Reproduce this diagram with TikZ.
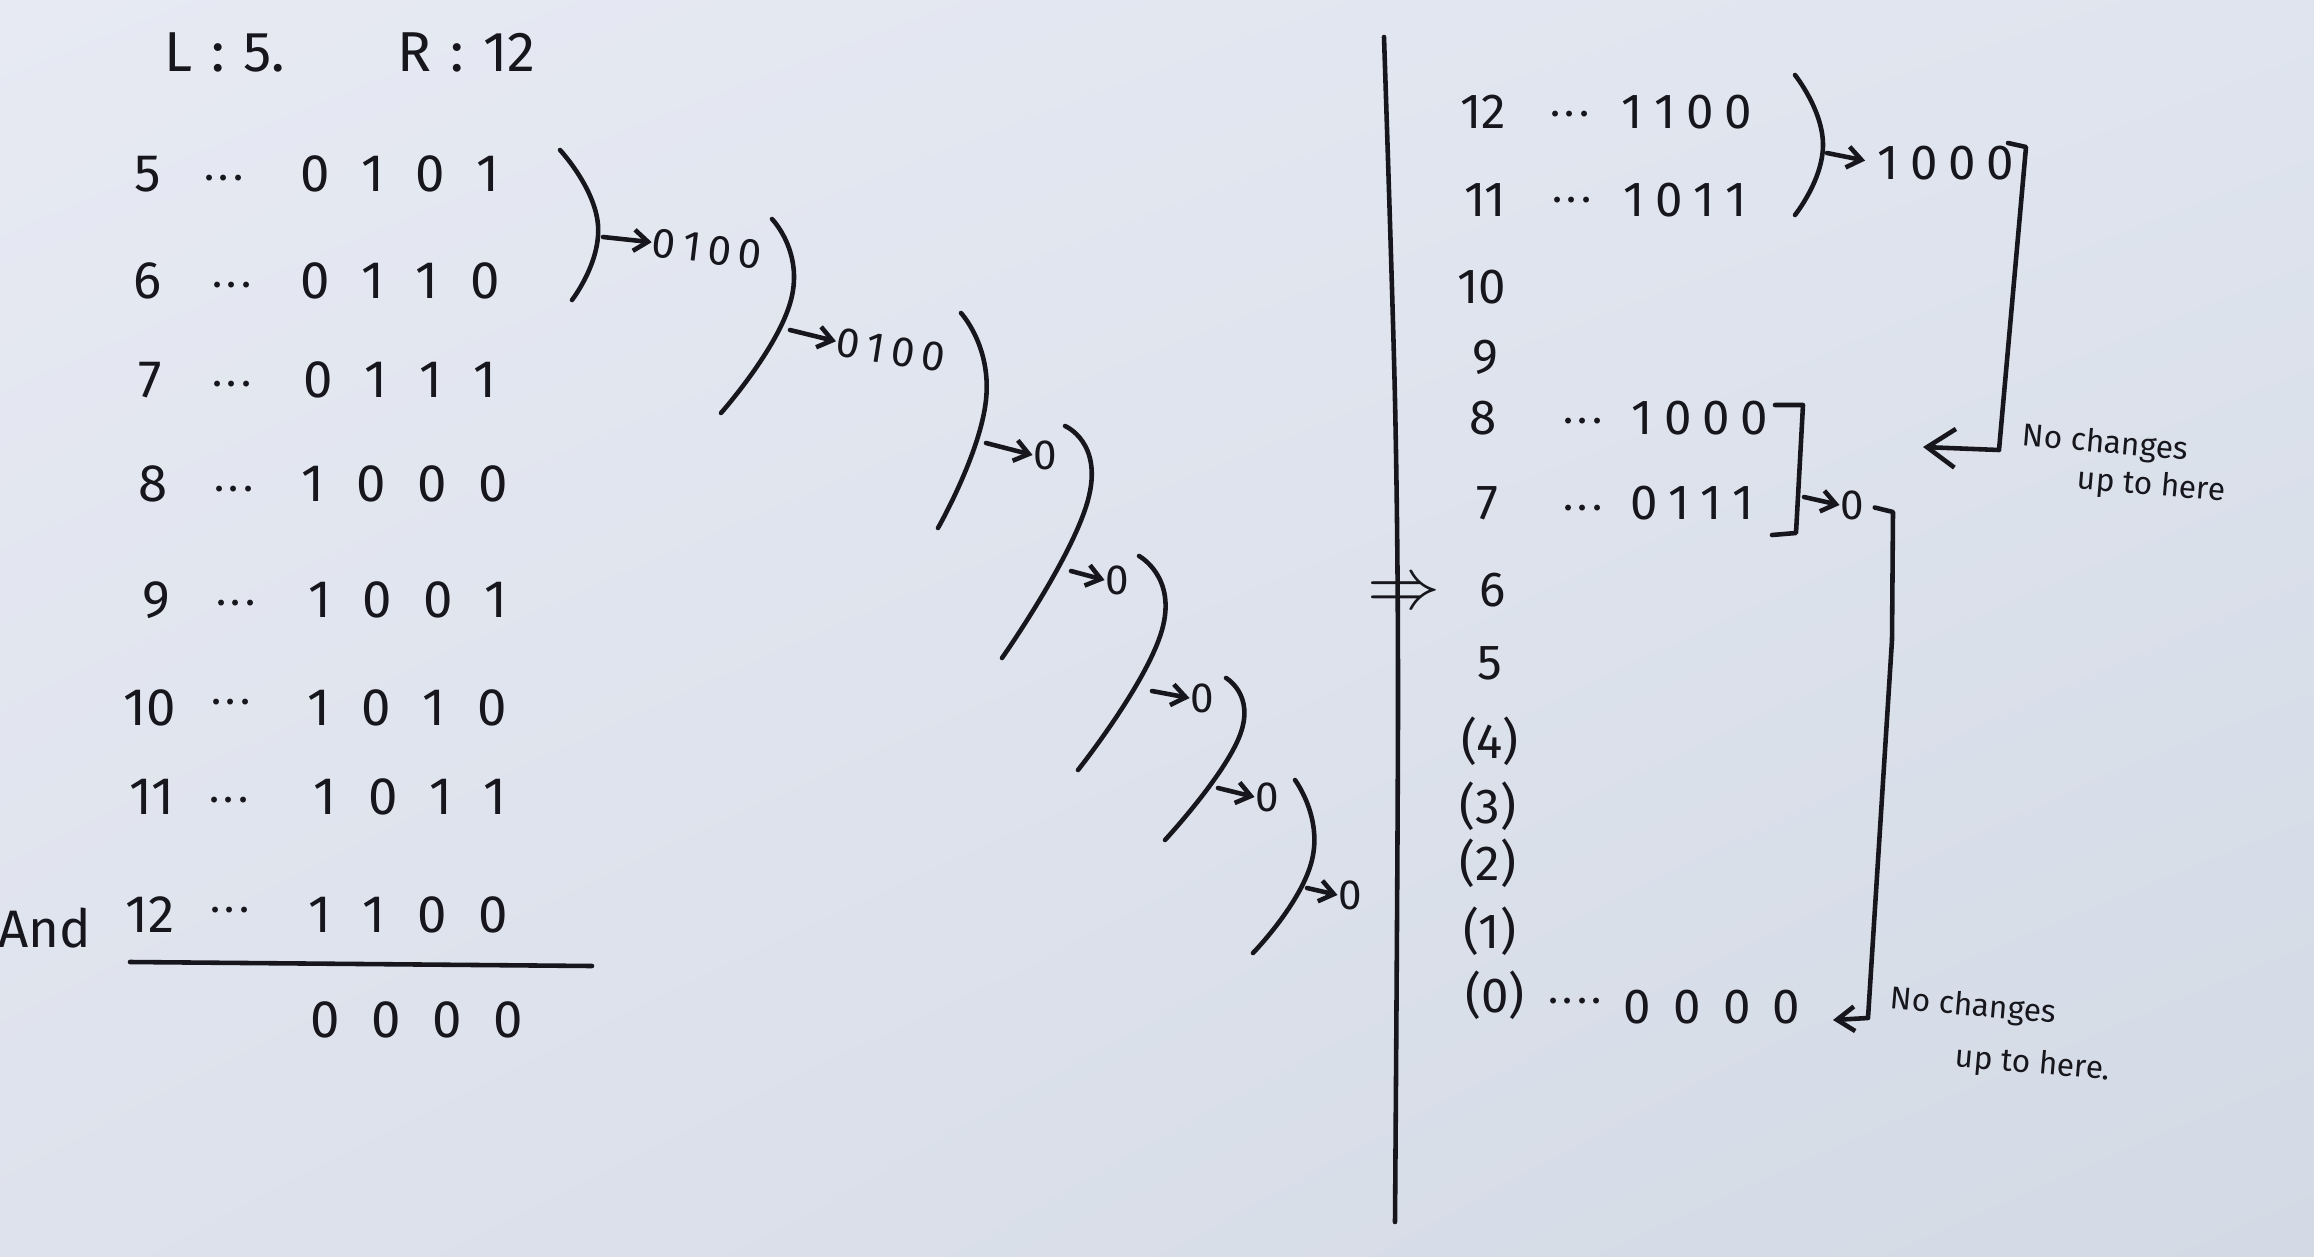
\documentclass[tikz,border=0pt]{standalone}
\usepackage{fontspec}
\setmainfont{Fira Sans}
\usetikzlibrary{arrows.meta,shadings}
\definecolor{ink}{RGB}{22,22,28}
\definecolor{bgA}{RGB}{231,234,243}
\definecolor{bgB}{RGB}{223,228,238}
\definecolor{bgC}{RGB}{222,226,236}
\definecolor{bgD}{RGB}{211,218,229}
\newcommand\gL{\hspace{0.6em}}
\newcommand\gR{\hspace{0.22em}}
\newcommand\gB{\hspace{0.45em}}
\newcommand\dd{.\kern1.2pt.\kern1.2pt.}
\newcommand\ddd{.\kern1.2pt.\kern1.2pt.\kern1.2pt.}
\begin{document}
\begin{tikzpicture}[x=0.01cm,y=-0.01cm,
  num/.style={inner sep=0pt,text=ink,font=\fontsize{15}{18}\selectfont},
  numR/.style={inner sep=0pt,text=ink,font=\fontsize{14}{17}\selectfont},
  dotsS/.style={inner sep=0pt,text=ink,font=\fontsize{12}{14}\selectfont},
  lab/.style={inner sep=0pt,text=ink,font=\fontsize{12}{14}\selectfont},
  note/.style={inner sep=0pt,text=ink,font=\fontsize{9}{11}\selectfont,anchor=west,rotate=-5},
  stroke/.style={draw=ink,line width=1.3pt,line cap=round,line join=round},
  tip/.style={stroke,-{Straight Barb[length=4pt,width=6pt]}},
]
\shade[upper left=bgA,upper right=bgB,lower left=bgC,lower right=bgD] (0,0) rectangle (2314,1257);
\useasboundingbox (0,0) rectangle (2314,1257);

% ---------- left column ----------
\node[num,font=\fontsize{16}{19}\selectfont] (title) at (350,52) {L\,\,:\,\,5.\qquad R\,\,:\,\,12};

\node[num] (l5) at (148,174) {5};
\node[dotsS] (l5d) at (224,178) {\dd};
\node[num] (l5b) at (400,174) {0\gL1\gL0\gL1};

\node[num] (l6) at (148,281) {6};
\node[dotsS] (l6d) at (232,285) {\dd};
\node[num] (l6b) at (400,281) {0\gL1\gL1\gL0};

\node[num] (l7) at (150,380) {7};
\node[dotsS] (l7d) at (232,384) {\dd};
\node[num] (l7b) at (400,380) {0\gL1\gL1\gL1};

\node[num] (l8) at (153,484) {8};
\node[dotsS] (l8d) at (234,489) {\dd};
\node[num] (l8b) at (405,484) {1\gL0\gL0\gL0};

\node[num] (l9) at (156,600) {9};
\node[dotsS] (l9d) at (236,603) {\dd};
\node[num] (l9b) at (408,600) {1\gL0\gL0\gL1};

\node[num] (l10) at (150,708) {10};
\node[dotsS] (l10d) at (231,702) {\dd};
\node[num] (l10b) at (407,708) {1\gL0\gL1\gL0};

\node[num] (l11) at (152,797) {11};
\node[dotsS] (l11d) at (229,800) {\dd};
\node[num] (l11b) at (410,797) {1\gL0\gL1\gL1};

\node[num] (land) at (45,928) {And};
\node[num] (l12) at (150,915) {12};
\node[dotsS] (l12d) at (230,910) {\dd};
\node[num] (l12b) at (408,915) {1\gL1\gL0\gL0};

\draw[stroke] (130,962) -- (592,966);
\node[num] (lres) at (417,1020) {0\gL0\gL0\gL0};

% ---------- cascading brackets ----------
\draw[stroke] plot[smooth,tension=0.9] coordinates {(560,150) (598,225) (572,300)};
\coordinate (a1) at (603,237);
\node[lab,rotate=-7] (k1) at (707,249) {0\,1\,0\,0};
\draw[tip] (a1) -- (k1.west);

\draw[stroke] plot[smooth,tension=0.9] coordinates {(772,219) (791,300) (721,413)};
\coordinate (a2) at (790,330);
\node[lab,rotate=-9] (k2) at (891,350) {0\,1\,0\,0};
\draw[tip] (a2) -- (k2.west);

\draw[stroke] plot[smooth,tension=0.9] coordinates {(961,313) (986,400) (938,528)};
\coordinate (a3) at (986,443);
\node[lab] (k3) at (1045,455) {0};
\draw[tip] (a3) -- (k3.west);

\draw[stroke] plot[smooth,tension=0.9] coordinates {(1065,426) (1088,500) (1002,658)};
\coordinate (a4) at (1071,571);
\node[lab] (k4) at (1117,580) {0};
\draw[tip] (a4) -- (k4.west);

\draw[stroke] plot[smooth,tension=0.9] coordinates {(1139,556) (1162,630) (1078,770)};
\coordinate (a5) at (1152,691);
\node[lab] (k5) at (1202,698) {0};
\draw[tip] (a5) -- (k5.west);

\draw[stroke] plot[smooth,tension=0.9] coordinates {(1226,678) (1240,735) (1165,840)};
\coordinate (a6) at (1218,788);
\node[lab] (k6) at (1267,797) {0};
\draw[tip] (a6) -- (k6.west);

\draw[stroke] plot[smooth,tension=0.9] coordinates {(1295,780) (1312,860) (1253,953)};
\coordinate (a7) at (1307,888);
\node[lab] (k7) at (1350,895) {0};
\draw[tip] (a7) -- (k7.west);

% ---------- divider ----------
\draw[stroke] plot[smooth] coordinates {(1384,37) (1395,400) (1398,700) (1395,1222)};
\node[inner sep=0pt,text=ink,font=\fontsize{20}{22}\selectfont] (imp) at (1404,595) {$\Rightarrow$};

% ---------- right column ----------
\node[numR] (r12) at (1483,112) {12};
\node[dotsS] (r12d) at (1570,114) {\dd};
\node[numR] (r12b) at (1687,112) {1\gR1\gR0\gR0};

\node[numR] (r11) at (1485,200) {11};
\node[dotsS] (r11d) at (1572,200) {\dd};
\node[numR] (r11b) at (1685,200) {1\gR0\gR1\gR1};

\node[numR] (r10) at (1482,287) {10};
\node[numR] (r9) at (1485,357) {9};

\node[numR] (r8) at (1483,418) {8};
\node[dotsS] (r8d) at (1583,421) {\dd};
\node[numR] (r8b) at (1700,418) {1\gR0\gR0\gR0};

\node[numR] (r7) at (1487,503) {7};
\node[dotsS] (r7d) at (1583,508) {\dd};
\node[numR] (r7b) at (1692,503) {0\gR1\gR1\gR1};

\node[numR] (r6) at (1493,590) {6};
\node[numR] (r5) at (1490,663) {5};
\node[numR] (r4) at (1490,741) {(4)};
\node[numR] (r3) at (1488,806) {(3)};
\node[numR] (r2) at (1488,863) {(2)};
\node[numR] (r1) at (1490,931) {(1)};
\node[numR] (r0) at (1495,995) {(0)};
\node[dotsS] (r0d) at (1575,1001) {\ddd};
\node[numR] (r0b) at (1712,1007) {0\gB0\gB0\gB0};

% bracket 12/11 -> 1000
\draw[stroke] plot[smooth,tension=0.9] coordinates {(1795,75) (1823,145) (1795,215)};
\coordinate (c1) at (1827,153);
\node[numR] (res1) at (1946,163) {1\gR0\gR0\gR0};
\draw[tip,shorten >=3.5pt] (c1) -- (res1.west);
\coordinate (k1s) at (2008,143);
\coordinate (k1a) at (2026,147);
\coordinate (k1b) at (1999,450);
\coordinate (tipA) at (1923,447);
\draw[stroke,-{Straight Barb[length=8pt,width=11pt]}] (k1s) -- (k1a) -- (k1b) -- (tipA);
\node[note] (nc1) at (2022,437) {No changes};
\node[note] (ut1) at (2077,480) {up to here};

% bracket 8/7 -> 0
\draw[stroke] (1775,405) -- (1803,405) -- (1796,533) -- (1772,535);
\coordinate (c2) at (1804,497);
\node[lab] (res2) at (1852,505) {0};
\draw[tip] (c2) -- (res2.west);
\coordinate (k2a) at (1893,512);
\coordinate (k2b) at (1892,640);
\coordinate (k2c) at (1868,1018);
\coordinate (tipB) at (1833,1020);
\draw[stroke,-{Straight Barb[length=5pt,width=7pt]},shorten <=3pt] (res2.east) -- (k2a) -- (k2b) -- (k2c) -- (tipB);
\node[note] (nc2) at (1890,1000) {No changes};
\node[note] (ut2) at (1955,1058) {up to here.};
\end{tikzpicture}
\end{document}
